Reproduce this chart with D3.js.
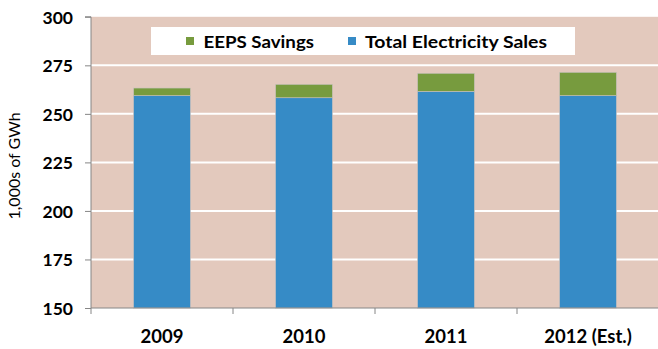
<!DOCTYPE html>
<html><head><meta charset="utf-8">
<script src="https://cdn.jsdelivr.net/npm/d3@7"></script>
<style>body{margin:0;background:#fff;}svg{display:block;}</style>
</head><body>
<svg id="c" width="658" height="349"></svg>
<script>
const categories = ["2009", "2010", "2011", "2012 (Est.)"];
const salesValues = [259.4, 258.3, 261.6, 259.4];
const savingsValues = [3.9, 6.9, 9.3, 12.0];
const yTicks = [150, 175, 200, 225, 250, 275, 300];
const seriesNames = ["EEPS Savings", "Total Electricity Sales"];
const colors = {"EEPS Savings": "#779B3E", "Total Electricity Sales": "#368BC6"};

const svg = d3.select("#c");
const font = "Lato, 'Open Sans', sans-serif";
const x0 = 91, x1 = 659, yTop = 16.8, yBot = 308;

const y = d3.scaleLinear().domain([150, 300]).range([yBot, yTop]);
const x = d3.scaleBand().domain(categories).range([x0, x1]).paddingInner(0.6).paddingOuter(0.3);

// plot background
svg.append("rect").attr("x", x0).attr("y", y(300)).attr("width", x1 - x0).attr("height", yBot - y(300)).attr("fill", "#E3C9BD");

// gridlines
svg.append("g").selectAll("line").data(yTicks.filter(t => t > 150 && t < 300)).join("line")
  .attr("x1", x0).attr("x2", x1).attr("y1", d => y(d)).attr("y2", d => y(d))
  .attr("stroke", "#fff").attr("stroke-width", 2);

// stacked data
const table = categories.map((c, i) => ({cat: c, "Total Electricity Sales": salesValues[i], "EEPS Savings": savingsValues[i]}));
const stack = d3.stack().keys(["Total Electricity Sales", "EEPS Savings"]);
const stacked = stack(table);

svg.append("g").selectAll("g").data(stacked).join("g")
  .attr("fill", d => colors[d.key])
  .selectAll("rect").data(d => d).join("rect")
  .attr("x", d => x(d.data.cat))
  .attr("width", x.bandwidth())
  .attr("y", d => y(Math.min(d[1], 300)))
  .attr("height", d => y(Math.max(d[0], 150)) - y(Math.min(d[1], 300)))
  .attr("stroke", "#C9C2BE").attr("stroke-width", 0.6);

// y axis
const yAxis = d3.axisLeft(y).tickValues(yTicks).tickSize(6).tickPadding(12);
const ga = svg.append("g").attr("transform", `translate(${x0},0)`).call(yAxis);
ga.select(".domain").attr("stroke", "#868686").attr("d", `M-6,${yTop}H0V${yBot}`);
ga.selectAll(".tick line").attr("stroke", "#868686");
ga.selectAll(".tick text").attr("font-family", font).attr("font-weight", "bold").attr("font-size", 17.5).attr("fill", "#000").attr("dy", "0.36em");

// x axis
const xg = svg.append("g").attr("transform", `translate(0,${yBot})`);
xg.append("line").attr("x1", x0).attr("x2", x1).attr("y1", 0).attr("y2", 0).attr("stroke", "#868686");
const bounds = [x0].concat(categories.map(c => x(c) + x.bandwidth() + x.step() * 0.3));
xg.selectAll("line.tk").data(bounds).join("line").attr("class", "tk")
  .attr("x1", d => d).attr("x2", d => d).attr("y1", 0).attr("y2", 6).attr("stroke", "#868686");
xg.selectAll("text").data(categories).join("text")
  .attr("x", d => x(d) + x.bandwidth() / 2).attr("y", 35)
  .attr("text-anchor", "middle").attr("font-family", font).attr("font-weight", "bold").attr("font-size", 18.5)
  .text(d => d);

// y title
svg.append("text").attr("transform", "translate(20,166) rotate(-90)")
  .attr("text-anchor", "middle").attr("font-family", font).attr("font-size", 16).text("1,000s of GWh");

// legend
svg.append("rect").attr("x", 151).attr("y", 27).attr("width", 424).attr("height", 28).attr("fill", "#fff");
const legPos = [{sx: 186, tx: 203.5, w: 110.5}, {sx: 348, tx: 365, w: 182}];
seriesNames.forEach((n, i) => {
  svg.append("rect").attr("x", legPos[i].sx).attr("y", 37).attr("width", 8).attr("height", 8).attr("fill", colors[n]);
  svg.append("text").attr("x", legPos[i].tx).attr("y", 47.5).attr("font-family", font).attr("font-weight", "bold")
    .attr("font-size", 17.5).attr("textLength", legPos[i].w).attr("lengthAdjust", "spacingAndGlyphs").text(n);
});
</script>
</body></html>
